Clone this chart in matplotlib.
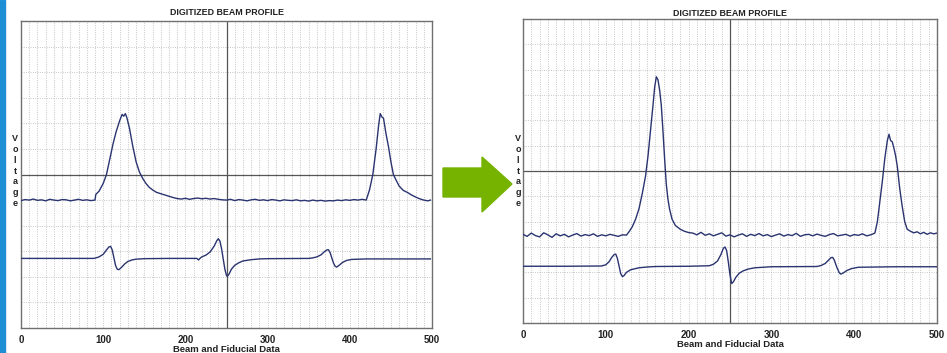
import matplotlib.pyplot as plt
from matplotlib.patches import Polygon, Rectangle

# --------------------------------
# Traces (x = sample, y = grid divisions, 0..12)
# --------------------------------
before_beam = [
    (0, 4.98), (5, 5.02), (10, 5.0), (15, 5.04), (20, 4.99), (25, 5.01), (30, 4.97),
    (35, 5.03), (40, 5.0), (45, 4.98), (50, 5.02), (55, 5.01), (60, 4.97), (65, 5.0),
    (70, 5.03), (75, 4.99), (80, 5.01), (85, 4.98), (90, 5.0),
    (91, 5.22), (95, 5.35), (100, 5.65), (104, 6.0), (108, 6.6), (112, 7.2), (116, 7.7),
    (120, 8.1), (123, 8.35), (125, 8.28), (127, 8.38), (129, 8.2), (132, 7.8), (136, 7.1),
    (140, 6.5), (144, 6.1), (148, 5.85), (152, 5.65), (156, 5.5), (160, 5.4), (165, 5.3),
    (170, 5.25), (175, 5.2), (180, 5.15), (185, 5.1),
    (190, 5.06), (195, 5.04), (200, 5.07), (205, 5.03), (210, 5.06), (215, 5.08),
    (220, 5.05), (225, 5.07), (230, 5.04), (235, 5.06), (240, 5.03), (245, 5.01),
    (250, 5.0), (255, 5.03), (260, 4.98), (265, 5.02), (270, 5.0), (275, 4.97),
    (280, 5.01), (285, 5.03), (290, 4.99), (295, 5.01), (300, 4.98), (305, 5.02),
    (310, 5.0), (315, 4.97), (320, 5.01), (325, 4.99), (330, 4.98), (335, 5.01),
    (340, 4.97), (345, 4.99), (350, 4.96), (355, 5.0), (360, 4.97), (365, 4.99),
    (370, 4.96), (375, 4.98), (380, 4.97), (385, 5.0), (390, 4.98), (395, 5.01),
    (400, 4.99), (405, 5.02), (410, 5.0), (415, 5.03),
    (420, 5.0), (424, 5.4), (428, 6.0), (432, 7.0), (435, 7.9), (437, 8.38), (439, 8.25),
    (441, 8.2), (444, 7.6), (447, 7.1), (450, 6.5), (453, 6.0), (456, 5.8), (460, 5.55),
    (465, 5.38), (470, 5.3), (475, 5.2), (480, 5.12), (485, 5.05), (490, 5.0),
    (495, 4.97), (498, 5.0),
]

before_fiducial = [
    (0, 2.72), (40, 2.72), (88, 2.72), (90, 2.73), (95, 2.78), (100, 2.88), (104, 3.05),
    (107, 3.17), (109, 3.19), (111, 3.05), (113, 2.75), (115, 2.45), (117, 2.3),
    (119, 2.28), (122, 2.36), (126, 2.5), (130, 2.6), (135, 2.66), (140, 2.69),
    (150, 2.71), (180, 2.72), (214, 2.72), (216, 2.66), (218, 2.73), (220, 2.78),
    (225, 2.85), (230, 2.97), (235, 3.2), (238, 3.4), (240, 3.49), (242, 3.4),
    (244, 3.1), (246, 2.7), (248, 2.3), (250, 2.05), (251, 2.02), (253, 2.1),
    (256, 2.3), (260, 2.45), (265, 2.55), (270, 2.62), (280, 2.67), (290, 2.7),
    (300, 2.71), (350, 2.72), (355, 2.74), (360, 2.78), (365, 2.86), (369, 2.98),
    (372, 3.05), (374, 3.06), (376, 2.95), (378, 2.75), (380, 2.55), (382, 2.42),
    (384, 2.38), (387, 2.45), (391, 2.56), (396, 2.64), (402, 2.68), (420, 2.7),
    (498, 2.7),
]

after_beam = [
    (0, 3.5), (5, 3.42), (10, 3.55), (15, 3.45), (20, 3.4), (25, 3.56), (30, 3.48),
    (35, 3.38), (40, 3.52), (45, 3.44), (50, 3.5), (55, 3.4), (60, 3.47), (65, 3.53),
    (70, 3.43), (75, 3.49), (80, 3.45), (85, 3.52), (90, 3.42), (95, 3.48), (100, 3.44),
    (105, 3.5), (110, 3.46), (115, 3.42), (120, 3.48), (125, 3.47),
    (128, 3.6), (132, 3.8), (136, 4.1), (140, 4.5), (144, 5.1), (148, 5.8), (151, 6.6),
    (154, 7.6), (157, 8.6), (159, 9.3), (161, 9.72), (163, 9.6), (165, 9.2), (167, 8.6),
    (169, 7.6), (171, 6.5), (173, 5.5), (175, 4.9), (177, 4.5), (180, 4.1), (184, 3.85),
    (190, 3.7), (195, 3.62), (200, 3.57),
    (205, 3.55), (210, 3.48), (215, 3.58), (220, 3.46), (225, 3.52), (230, 3.44),
    (235, 3.5), (240, 3.56), (245, 3.43), (250, 3.48), (255, 3.4), (260, 3.47),
    (265, 3.52), (270, 3.42), (275, 3.5), (280, 3.45), (285, 3.53), (290, 3.44),
    (295, 3.49), (300, 3.41), (305, 3.47), (310, 3.52), (315, 3.43), (320, 3.49),
    (325, 3.45), (330, 3.54), (335, 3.42), (340, 3.48), (345, 3.5), (350, 3.44),
    (355, 3.51), (360, 3.46), (365, 3.42), (370, 3.49), (375, 3.53), (380, 3.44),
    (385, 3.47), (390, 3.5), (395, 3.43), (400, 3.49), (405, 3.46), (410, 3.52),
    (415, 3.44), (420, 3.48),
    (425, 3.55), (428, 4.0), (431, 4.8), (434, 5.6), (437, 6.5), (440, 7.2), (442, 7.45),
    (444, 7.2), (446, 7.15), (448, 6.9), (450, 6.6), (452, 6.2), (455, 5.3), (458, 4.6),
    (461, 4.0), (464, 3.7), (468, 3.62), (472, 3.56), (476, 3.6), (480, 3.52),
    (484, 3.58), (488, 3.5), (492, 3.56), (496, 3.52), (500, 3.55),
]

after_fiducial = [
    (0, 2.24), (50, 2.24), (95, 2.25), (100, 2.3), (104, 2.42), (107, 2.58), (110, 2.7),
    (112, 2.72), (114, 2.55), (116, 2.25), (118, 1.95), (120, 1.83), (122, 1.87),
    (125, 2.0), (130, 2.1), (140, 2.18), (150, 2.21), (160, 2.23), (200, 2.24),
    (225, 2.26), (230, 2.32), (235, 2.45), (239, 2.7), (242, 2.95), (244, 3.0),
    (246, 2.85), (248, 2.4), (250, 1.9), (252, 1.56), (254, 1.62), (257, 1.8),
    (261, 1.96), (266, 2.06), (272, 2.13), (280, 2.18), (300, 2.22), (355, 2.23),
    (360, 2.27), (365, 2.35), (369, 2.48), (372, 2.58), (374, 2.59), (376, 2.48),
    (379, 2.2), (382, 1.98), (384, 1.93), (387, 1.98), (391, 2.07), (397, 2.15),
    (405, 2.2), (450, 2.22), (500, 2.22),
]

x_ticks = [0, 100, 200, 300, 400, 500]
TRACE = "#2a3470"
FONT = "Liberation Sans"

W, H = 947, 353
fig = plt.figure(figsize=(W / 100, H / 100), dpi=100)
fig.patch.set_facecolor("white")


def px_box(left, top, right, bottom):
    return [left / W, 1 - bottom / H, (right - left) / W, (bottom - top) / H]


def draw_panel(rect, beam, fiducial, title_pad, label_x):
    ax = fig.add_axes(rect)
    ax.set_xlim(0, 500)
    ax.set_ylim(0, 12)
    for gx in range(10, 500, 10):
        ax.axvline(gx, color="#b4b4b4", lw=0.55, ls=(0, (1.2, 1.8)), zorder=1)
    for gy in range(1, 12):
        ax.axhline(gy, color="#b4b4b4", lw=0.55, ls=(0, (1.2, 1.8)), zorder=1)
    ax.axvline(250, color="#555555", lw=0.9, zorder=2)
    ax.axhline(6, color="#555555", lw=0.9, zorder=2)

    for trace in (beam, fiducial):
        xs = [p[0] for p in trace]
        ys = [p[1] for p in trace]
        ax.plot(xs, ys, color=TRACE, lw=1.0, zorder=3)

    for s in ax.spines.values():
        s.set_color("#707070")
        s.set_linewidth(1.0)
    ax.set_yticks([])
    ax.set_xticks(x_ticks)
    ax.tick_params(axis="x", length=0, pad=5, labelsize=7, colors="#222222")
    for lab in ax.get_xticklabels():
        lab.set_fontfamily(FONT)
        lab.set_fontweight("bold")
    ax.set_xlabel("Beam and Fiducial Data", fontsize=6.8, fontweight="bold",
                  family=FONT, color="#222222", labelpad=0)
    ax.set_title("DIGITIZED BEAM PROFILE", fontsize=6.4, fontweight="bold",
                 family=FONT, color="#222222", pad=title_pad)
    fig.text(label_x / W, 1 - 171 / H, "V\no\nl\nt\na\ng\ne", ha="center",
             va="center", fontsize=6.5, fontweight="bold", family=FONT,
             color="#222222", linespacing=1.25)
    return ax


draw_panel(px_box(21, 21, 432, 328), before_beam, before_fiducial, 4, 15)
draw_panel(px_box(523, 19, 937, 323), after_beam, after_fiducial, 2, 518)

# left edge bar and arrow between the two panels
fig.patches.append(Rectangle((0, 0), 5 / W, 1, transform=fig.transFigure,
                             color="#1e8fd5", zorder=0))
arrow_px = [(443, 168), (482, 168), (482, 157), (512, 184), (482, 212),
            (482, 197), (443, 197)]
fig.patches.append(Polygon([(x / W, 1 - y / H) for x, y in arrow_px], closed=True,
                           transform=fig.transFigure, color="#76b300", zorder=5))

fig.savefig("out.png", dpi=100)
